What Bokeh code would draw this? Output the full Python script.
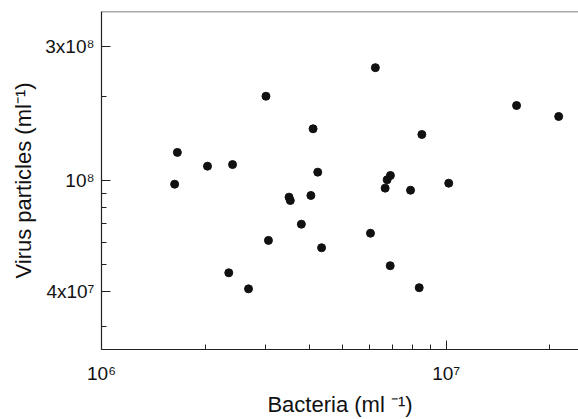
from bokeh.plotting import figure
from bokeh.models import Range1d, FixedTicker, Span
from bokeh.embed import file_html
from bokeh.resources import INLINE

# Data (bacteria ml^-1, virus particles ml^-1)
bacteria = [1.66e6, 1.63e6, 2.03e6, 2.40e6, 3.00e6, 4.11e6, 2.34e6, 2.67e6,
            3.05e6, 3.50e6, 3.53e6, 4.05e6, 4.24e6, 3.80e6, 4.35e6, 6.23e6,
            6.03e6, 6.65e6, 6.74e6, 6.89e6, 6.88e6, 7.88e6, 8.50e6, 8.35e6,
            1.017e7, 1.60e7, 2.12e7]
virus = [1.26e8, 0.97e8, 1.125e8, 1.14e8, 2.00e8, 1.53e8, 4.68e7, 4.10e7,
         6.11e7, 8.72e7, 8.48e7, 8.84e7, 1.071e8, 6.98e7, 5.75e7, 2.53e8,
         6.48e7, 9.39e7, 1.006e8, 1.042e8, 4.96e7, 9.23e7, 1.46e8, 4.14e7,
         9.78e7, 1.853e8, 1.693e8]

x_major = [1e6, 1e7]
x_minor = [2e6, 3e6, 4e6, 5e6, 6e6, 7e6, 8e6, 9e6, 2e7]
x_labels = ["10\u2076", "10\u2077"]
y_major = [4e7, 1e8, 3e8]
y_minor = [3e7, 5e7, 6e7, 7e7, 8e7, 9e7, 2e8]
y_labels = ["4x10\u2077", "10\u2078", "3x10\u2078"]

x_lo, x_hi = 1e6, 2.42e7
y_lo, y_hi = 2.49e7, 4.015e8

FONT = "Liberation Sans"

p = figure(width=578, height=419, x_axis_type="log", y_axis_type="log",
           x_range=Range1d(x_lo, x_hi), y_range=Range1d(y_lo, y_hi),
           output_backend="svg", toolbar_location=None,
           min_border_left=101, min_border_right=0, min_border_top=11,
           min_border_bottom=70)
p.outline_line_color = None
p.grid.visible = False
p.background_fill_color = "white"
p.border_fill_color = "white"

p.scatter(bacteria, virus, size=8, color="#111111")

top = Span(location=y_hi, dimension="width", line_color="#555555", line_width=1.5)
p.add_layout(top)

xa = p.xaxis[0]
xa.ticker = FixedTicker(ticks=x_major, minor_ticks=x_minor)
xa.major_label_overrides = {int(v): s for v, s in zip(x_major, x_labels)}
xa.axis_label = "Bacteria (ml \u207b\u00b9)"
xa.axis_label_standoff = 5
xa.major_label_standoff = 13

ya = p.yaxis[0]
ya.ticker = FixedTicker(ticks=y_major, minor_ticks=y_minor)
ya.major_label_overrides = {int(v): s for v, s in zip(y_major, y_labels)}
ya.axis_label = "Virus particles (ml\u207b\u00b9)"
ya.axis_label_standoff = 6
ya.major_label_standoff = 7

for ax in (xa, ya):
    ax.axis_line_color = "#222222"
    ax.axis_line_width = 1.2
    ax.major_tick_in = 9
    ax.major_tick_out = 0
    ax.minor_tick_in = 5
    ax.minor_tick_out = 0
    ax.major_tick_line_color = "#222222"
    ax.minor_tick_line_color = "#222222"
    ax.major_label_text_font = FONT
    ax.major_label_text_font_size = "19px"
    ax.major_label_text_color = "#111111"
    ax.axis_label_text_font = FONT
    ax.axis_label_text_font_size = "22px"
    ax.axis_label_text_font_style = "normal"
    ax.axis_label_text_color = "#111111"

open("out.html", "w").write(file_html(p, INLINE))
